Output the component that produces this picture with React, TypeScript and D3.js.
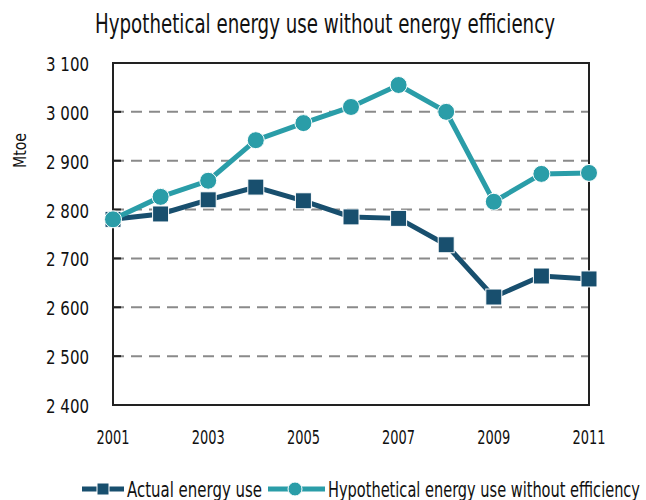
import React, { useEffect, useRef } from "react";
import * as d3 from "d3";

const years = [2001, 2002, 2003, 2004, 2005, 2006, 2007, 2008, 2009, 2010, 2011];
const actual = [2780, 2791, 2820, 2846, 2818, 2785, 2782, 2728, 2621, 2664, 2658];
const hypothetical = [2780, 2826, 2859, 2942, 2977, 3010, 3055, 3000, 2816, 2873, 2875];
const yTicks = [2400, 2500, 2600, 2700, 2800, 2900, 3000, 3100];
const xTicks = [2001, 2003, 2005, 2007, 2009, 2011];
const seriesNames = ["Actual energy use", "Hypothetical energy use without efficiency"];

const FONT = "'DejaVu Sans', sans-serif";
const DARK = "#184f6e";
const TEAL = "#2a9da8";

const App = () => {
  const svgRef = useRef<SVGSVGElement>(null);

  useEffect(() => {
    const w = 646;
    const h = 500;
    const left = 113, right = 589, top = 63, bottom = 405;

    const svg = d3.select(svgRef.current).attr("width", w).attr("height", h);
    svg.selectAll("*").remove();

    const x = d3.scaleLinear().domain([2001, 2011]).range([left, right]);
    const y = d3.scaleLinear().domain([2400, 3100]).range([bottom, top]);

    // squeeze text into the widths of the condensed original font
    const txt = (g, s, size, len) =>
      g.append("text")
        .attr("font-family", FONT)
        .attr("font-stretch", "condensed")
        .attr("font-size", size)
        .attr("fill", "#111")
        .attr("textLength", len)
        .attr("lengthAdjust", "spacingAndGlyphs")
        .text(s);

    // title
    txt(svg, "Hypothetical energy use without energy efficiency", 26, 460)
      .attr("x", 95)
      .attr("y", 33);

    // gridlines
    svg.append("g")
      .selectAll("line")
      .data(yTicks.filter(t => t > 2400 && t < 3100))
      .join("line")
      .attr("x1", left)
      .attr("x2", right)
      .attr("y1", d => y(d))
      .attr("y2", d => y(d))
      .attr("stroke", "#8a8a8a")
      .attr("stroke-width", 2)
      .attr("stroke-dasharray", "11,7");

    // left axis ticks (inside)
    svg.append("g")
      .selectAll("line")
      .data(yTicks)
      .join("line")
      .attr("x1", left)
      .attr("x2", left + 8)
      .attr("y1", d => y(d))
      .attr("y2", d => y(d))
      .attr("stroke", "#222")
      .attr("stroke-width", 2);

    // frame
    svg.append("rect")
      .attr("x", left)
      .attr("y", top)
      .attr("width", right - left)
      .attr("height", bottom - top)
      .attr("fill", "none")
      .attr("stroke", "#222")
      .attr("stroke-width", 2);

    // y tick labels
    const yl = svg.append("g");
    yTicks.forEach(t => {
      txt(yl, d3.format(",")(t).replace(",", " "), 20, 43)
        .attr("x", 46)
        .attr("y", y(t) + 8);
    });

    // x tick labels
    const xl = svg.append("g");
    xTicks.forEach(t => {
      txt(xl, String(t), 20, 33)
        .attr("x", x(t) - 16.5)
        .attr("y", 444);
    });

    // y axis title
    txt(svg, "Mtoe", 18, 35)
      .attr("transform", "translate(26,168) rotate(-90)");

    const line = d3.line<number>()
      .x((d, i) => x(years[i]))
      .y(d => y(d));

    // actual series
    svg.append("path")
      .datum(actual)
      .attr("d", line)
      .attr("fill", "none")
      .attr("stroke", DARK)
      .attr("stroke-width", 5);
    svg.append("g")
      .selectAll("rect")
      .data(actual)
      .join("rect")
      .attr("x", (d, i) => x(years[i]) - 8)
      .attr("y", d => y(d) - 8)
      .attr("width", 16)
      .attr("height", 16)
      .attr("fill", DARK)
      .attr("stroke", "#fff")
      .attr("stroke-width", 1);

    // hypothetical series
    svg.append("path")
      .datum(hypothetical)
      .attr("d", line)
      .attr("fill", "none")
      .attr("stroke", TEAL)
      .attr("stroke-width", 5);
    svg.append("g")
      .selectAll("circle")
      .data(hypothetical)
      .join("circle")
      .attr("cx", (d, i) => x(years[i]))
      .attr("cy", d => y(d))
      .attr("r", 8.5)
      .attr("fill", TEAL)
      .attr("stroke", "#fff")
      .attr("stroke-width", 1);

    // legend
    const legendY = 489;
    const lg = svg.append("g");
    lg.append("line")
      .attr("x1", 82).attr("x2", 124)
      .attr("y1", legendY).attr("y2", legendY)
      .attr("stroke", DARK).attr("stroke-width", 5);
    lg.append("rect")
      .attr("x", 97).attr("y", legendY - 6)
      .attr("width", 12).attr("height", 12)
      .attr("fill", DARK).attr("stroke", "#fff");
    txt(lg, seriesNames[0], 21, 135)
      .attr("x", 127).attr("y", legendY + 8);

    lg.append("line")
      .attr("x1", 268).attr("x2", 325)
      .attr("y1", legendY).attr("y2", legendY)
      .attr("stroke", TEAL).attr("stroke-width", 5);
    lg.append("circle")
      .attr("cx", 295).attr("cy", legendY).attr("r", 7)
      .attr("fill", TEAL).attr("stroke", "#fff");
    txt(lg, seriesNames[1], 21, 312)
      .attr("x", 328).attr("y", legendY + 8);
  }, []);

  return <svg ref={svgRef} style={{ position: "absolute", left: 0, top: 0 }} />;
};

export default App;
